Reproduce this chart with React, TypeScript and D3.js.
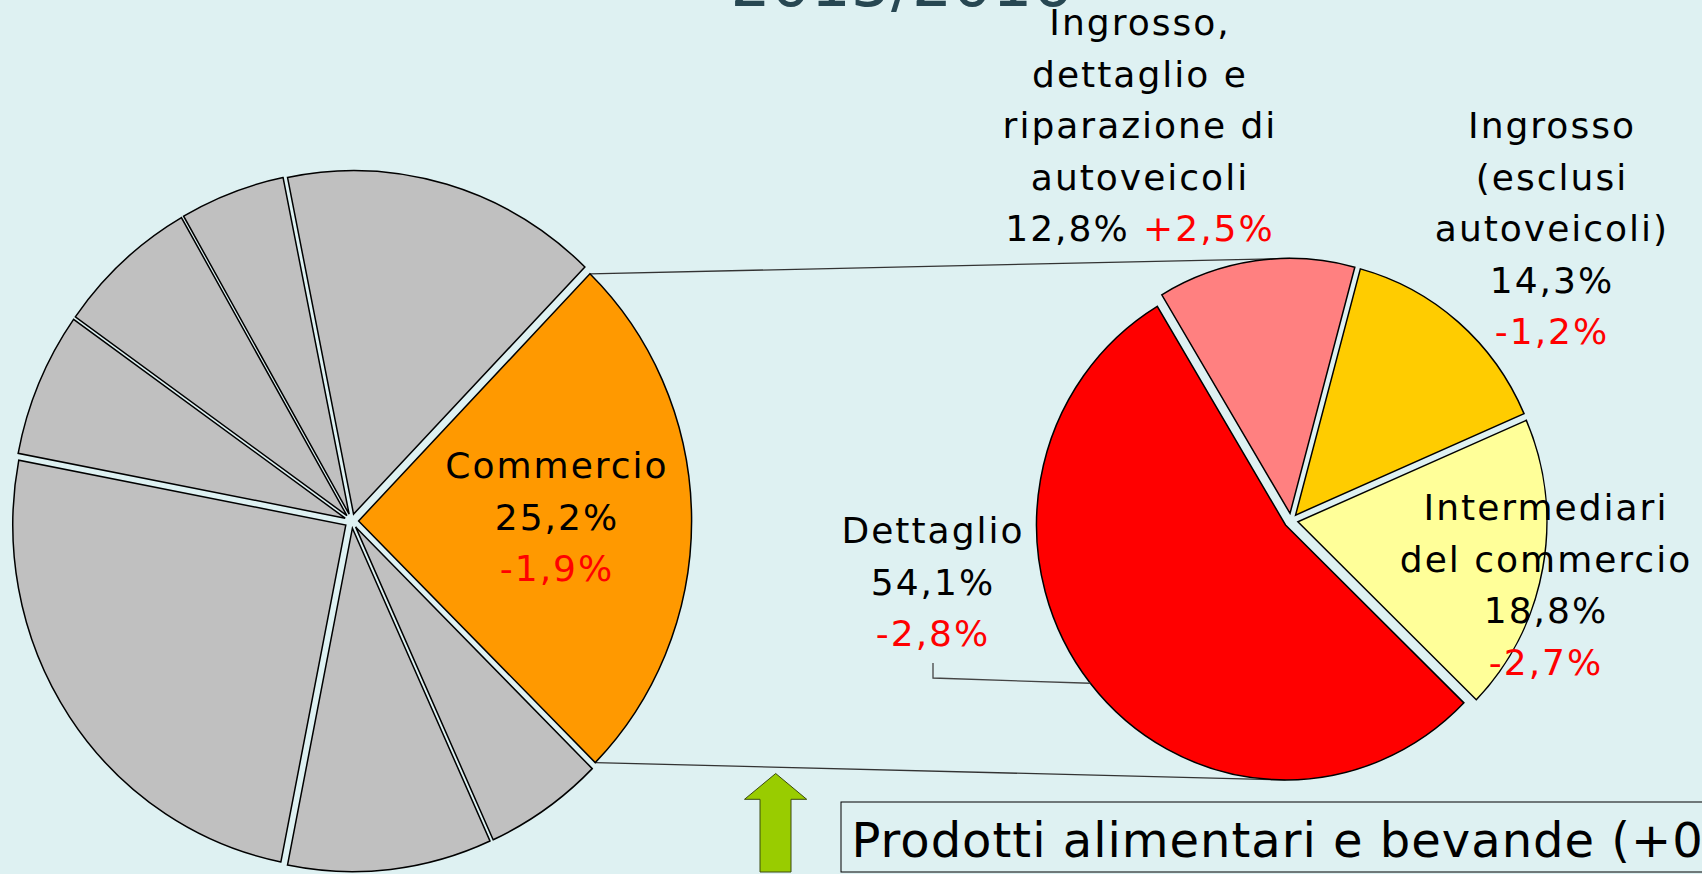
import React from 'react';
import * as d3 from 'd3';

// ---------- data ----------
const titleText = '2015/2016';
const leftCategories = ['Commercio', 'Altro 1', 'Altro 2', 'Altro 3', 'Altro 4', 'Altro 5', 'Altro 6', 'Altro 7'];
const leftShares = [25.2, 5.8, 9.9, 24.9, 6.8, 6.9, 5.1, 15.4];
const leftChanges: (number | null)[] = [-1.9, null, null, null, null, null, null, null];

const rightCategories = [
  ['Ingrosso,', 'dettaglio e', 'riparazione di', 'autoveicoli'],
  ['Ingrosso', '(esclusi', 'autoveicoli)'],
  ['Intermediari', 'del commercio'],
  ['Dettaglio'],
];
const rightShares = [12.8, 14.3, 18.8, 54.1];
const rightChanges = [2.5, -1.2, -2.7, -2.8];
const noteText = 'Prodotti alimentari e bevande (+0';

// ---------- style / layout ----------
const W = 1702;
const H = 874;
const BG = '#DEF1F2';
const FONT = '"DejaVu Sans", Verdana, sans-serif';
const leftColors = ['#FF9900', '#C0C0C0', '#C0C0C0', '#C0C0C0', '#C0C0C0', '#C0C0C0', '#C0C0C0', '#C0C0C0'];
const rightColors = ['#FF8080', '#FFCC00', '#FFFF99', '#FF0000'];
const deg = Math.PI / 180;

const L = { cx: 351.6, cy: 521, rx: 333, ry: 343.5, start: 44 * deg, explode: 7 };
const R = { cx: 1291, cy: 520.5, rx: 249, ry: 255, start: -31 * deg, explode: 7 };

const LINE_H = 51.5;
const FS = 36;
const leftLabelPos = { x: 557, y: 478 };
const rightLabelPos = [
  { x: 1140, y: 35 },
  { x: 1552, y: 138 },
  { x: 1546, y: 520 },
  { x: 933, y: 543 },
];

const fmtPct = (v: number) => v.toFixed(1).replace('.', ',') + '%';
const fmtChg = (v: number) => (v > 0 ? '+' : '') + fmtPct(v);

type Slice = d3.PieArcDatum<number>;

function layout(values: number[], cfg: typeof L) {
  const pie = d3
    .pie<number>()
    .sort(null)
    .value((d) => d)
    .startAngle(cfg.start)
    .endAngle(cfg.start + 2 * Math.PI);
  return pie(values);
}

function offsetOf(s: Slice, cfg: typeof L) {
  const m = (s.startAngle + s.endAngle) / 2;
  return { ox: cfg.explode * Math.sin(m), oy: -cfg.explode * Math.cos(m) };
}

// visual point on the outer edge of an exploded slice
function edgePoint(s: Slice, a: number, cfg: typeof L) {
  const { ox, oy } = offsetOf(s, cfg);
  const k = cfg.ry / cfg.rx;
  return [cfg.cx + ox + cfg.rx * Math.sin(a), cfg.cy + k * (oy - cfg.rx * Math.cos(a))];
}

function PieShape({ slices, cfg, colors }: { slices: Slice[]; cfg: typeof L; colors: string[] }) {
  const arc = d3.arc<Slice>().innerRadius(0).outerRadius(cfg.rx);
  return (
    <g transform={`translate(${cfg.cx},${cfg.cy}) scale(1,${cfg.ry / cfg.rx})`}>
      {slices.map((s, i) => {
        const { ox, oy } = offsetOf(s, cfg);
        return (
          <path
            key={i}
            d={arc(s) || ''}
            transform={`translate(${ox},${oy})`}
            fill={colors[i]}
            stroke="#000"
            strokeWidth={1.5}
            strokeLinejoin="miter"
            vectorEffect="non-scaling-stroke"
          />
        );
      })}
    </g>
  );
}

type Seg = { t: string; c: string };
function Label({ x, y, lines }: { x: number; y: number; lines: Seg[][] }) {
  return (
    <text x={x} y={y} textAnchor="middle" fontFamily={FONT} fontSize={FS} letterSpacing={2}>
      {lines.map((ln, i) => (
        <tspan key={i} x={x} y={y + i * LINE_H}>
          {ln.map((sg, j) => (
            <tspan key={j} fill={sg.c}>
              {sg.t}
            </tspan>
          ))}
        </tspan>
      ))}
    </text>
  );
}

export default function App() {
  const left = layout(leftShares, L);
  const right = layout(rightShares, R);

  // connectors
  const orange = left[0];
  const pA = edgePoint(orange, orange.startAngle, L);
  const pB = edgePoint(orange, orange.endAngle, L);
  const pink = right[0];
  const red = right[3];
  const topPt = edgePoint(pink, 0, R);
  const botPt = edgePoint(red, Math.PI, R);
  const redMid = (red.startAngle + red.endAngle) / 2;
  const leaderEnd = edgePoint(red, redMid, R);

  const leftLines: Seg[][] = [
    [{ t: leftCategories[0], c: '#000' }],
    [{ t: fmtPct(leftShares[0]), c: '#000' }],
    [{ t: fmtChg(leftChanges[0] as number), c: '#FF0000' }],
  ];

  const rightLines: Seg[][][] = rightCategories.map((names, i) => {
    const base: Seg[][] = names.map((n) => [{ t: n, c: '#000' }]);
    if (i === 0) {
      base.push([
        { t: fmtPct(rightShares[i]) + ' ', c: '#000' },
        { t: fmtChg(rightChanges[i]), c: '#FF0000' },
      ]);
    } else {
      base.push([{ t: fmtPct(rightShares[i]), c: '#000' }]);
      base.push([{ t: fmtChg(rightChanges[i]), c: '#FF0000' }]);
    }
    return base;
  });

  // arrow geometry
  const arrow = [
    [775.7, 773.5],
    [806.7, 799.3],
    [791, 799.3],
    [791, 872],
    [760, 872],
    [760, 799.3],
    [744.5, 799.3],
  ];

  return (
    <svg
      width={W}
      height={H}
      viewBox={`0 0 ${W} ${H}`}
      style={{ position: 'fixed', left: 0, top: 0, display: 'block' }}
    >
      <rect x={0} y={0} width={W} height={H} fill={BG} />
      <text x={901.5} y={6} textAnchor="middle" fontFamily={FONT} fontSize={63} fill="#274752">
        {titleText}
      </text>

      {/* connectors */}
      <line x1={pA[0]} y1={pA[1]} x2={topPt[0]} y2={topPt[1]} stroke="#333" strokeWidth={1.3} />
      <line x1={pB[0]} y1={pB[1]} x2={botPt[0]} y2={botPt[1]} stroke="#333" strokeWidth={1.3} />

      <PieShape slices={left} cfg={L} colors={leftColors} />
      <PieShape slices={right} cfg={R} colors={rightColors} />

      {/* Dettaglio leader */}
      <polyline
        points={`933,663 933,678 ${leaderEnd[0]},${leaderEnd[1]}`}
        fill="none"
        stroke="#444"
        strokeWidth={1.3}
      />

      <Label x={leftLabelPos.x} y={leftLabelPos.y} lines={leftLines} />
      {rightLines.map((ls, i) => (
        <Label key={i} x={rightLabelPos[i].x} y={rightLabelPos[i].y} lines={ls} />
      ))}

      {/* arrow */}
      <polygon
        points={arrow.map((p) => p.join(',')).join(' ')}
        fill="#99CC00"
        stroke="#3a4a10"
        strokeWidth={1}
      />

      {/* note box */}
      <rect x={841} y={802} width={900} height={70} fill="none" stroke="#000" strokeWidth={1} />
      <text x={851.5} y={856.7} fontFamily={FONT} fontSize={48} letterSpacing={1}>
        {noteText}
      </text>
    </svg>
  );
}
